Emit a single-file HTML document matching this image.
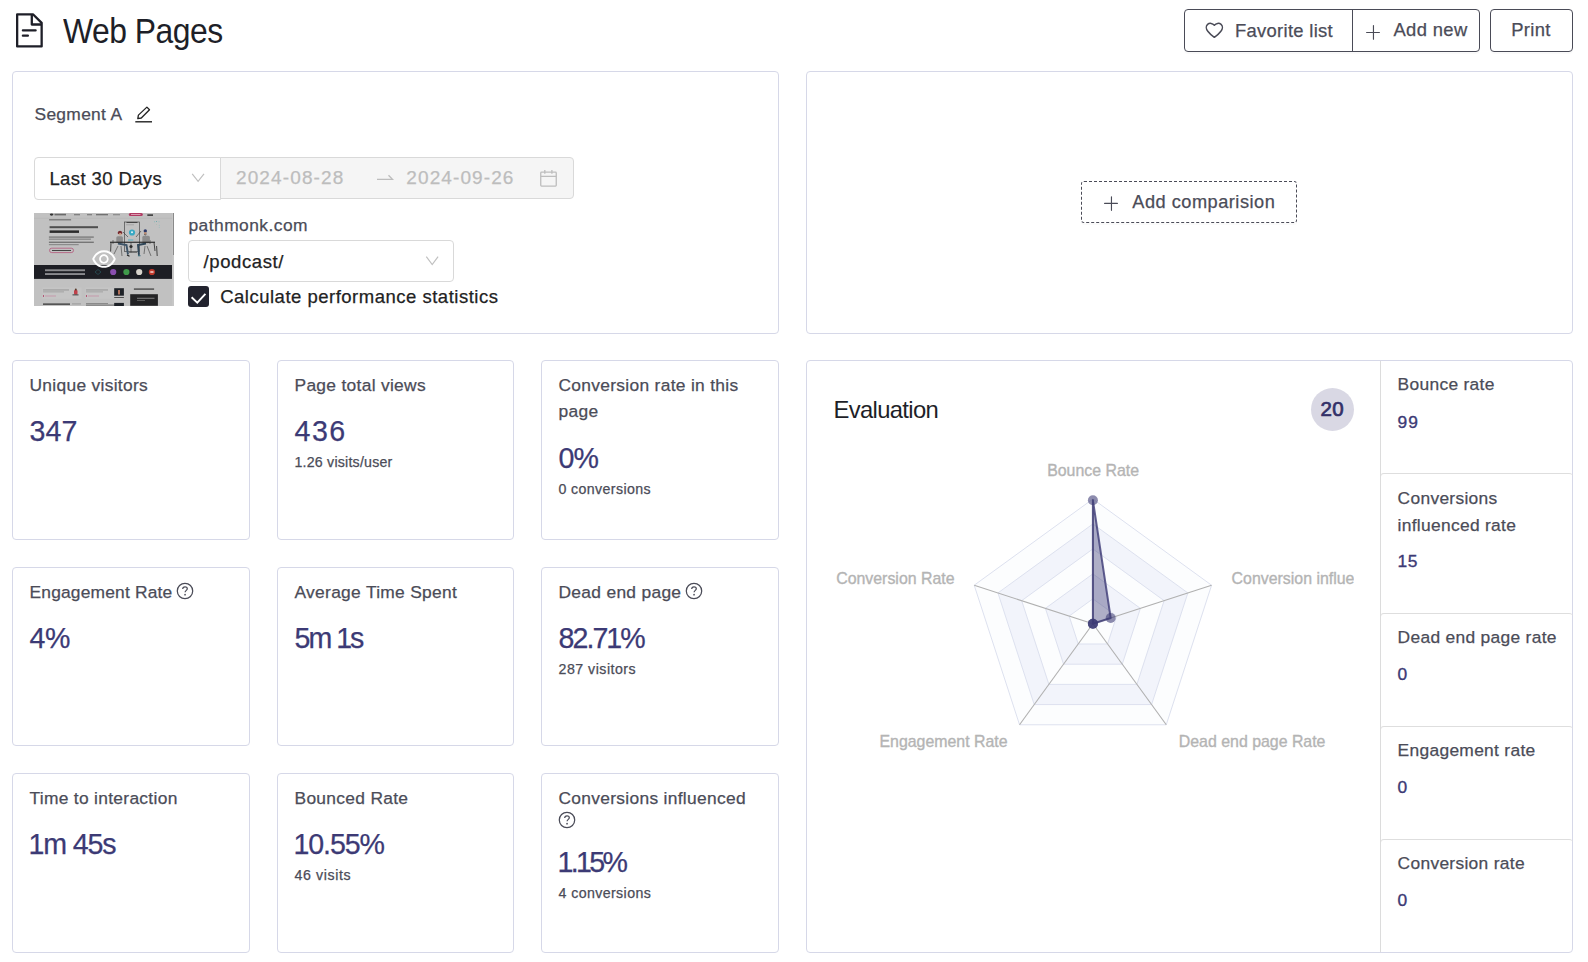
<!DOCTYPE html>
<html><head><meta charset="utf-8"><title>Web Pages</title>
<style>
html,body{margin:0;padding:0;background:#fff;}
body{width:1588px;height:962px;position:relative;overflow:hidden;font-family:"Liberation Sans", Arial, Helvetica, sans-serif;}
.t{position:absolute;white-space:nowrap;line-height:1;}
</style></head><body>
<svg style="position:absolute;left:14px;top:11px" width="32" height="40" viewBox="0 0 32 40">
<path d="M3.15 3.45 H19.2 L27.65 11.9 V35.45 H3.15 Z" fill="none" stroke="#1e1f28" stroke-width="2.3" stroke-linejoin="round"/>
<path d="M17.8 3.6 V13.5 H27.5" fill="none" stroke="#1e1f28" stroke-width="2.3" stroke-linejoin="round"/>
<path d="M8.9 19.4 H21.6" stroke="#1e1f28" stroke-width="2.3" stroke-linecap="round"/>
<path d="M8.9 24.7 H13.9" stroke="#1e1f28" stroke-width="2.3" stroke-linecap="round"/>
</svg>
<div class="t" style="left:63.0px;top:14.03px;font-size:35.4px;color:#1e1f28;letter-spacing:-0.55px;font-weight:400;transform:scaleX(0.9);transform-origin:0 0">Web Pages</div>
<div style="position:absolute;left:1184px;top:9px;width:296px;height:43px;box-sizing:border-box;border:1.3px solid #4a4b57;border-radius:4px;box-shadow:0 2px 0 rgba(0,0,0,0.02)"></div>
<div style="position:absolute;left:1352px;top:9px;width:1.3px;height:43px;box-sizing:border-box;background:#4a4b57"></div>
<div style="position:absolute;left:1490px;top:9px;width:83px;height:43px;box-sizing:border-box;border:1.3px solid #4a4b57;border-radius:4px;box-shadow:0 2px 0 rgba(0,0,0,0.02)"></div>
<svg style="position:absolute;left:1204px;top:21px" width="20" height="18" viewBox="0 0 20 18">
<path d="M10.35 16.3 C8 14.6 5.5 12.5 3.8 10.2 C1.9 7.9 1.8 5 3.6 3.4 C5.6 1.7 8.6 2.2 10.35 4.3 C12.1 2.2 15.1 1.7 17.1 3.4 C18.9 5 18.8 7.9 16.9 10.2 C15.2 12.5 12.7 14.6 10.35 16.3 Z" fill="none" stroke="#4a4b57" stroke-width="1.5" stroke-linejoin="round"/>
</svg>
<div class="t" style="left:1235.0px;top:21.52px;font-size:18.4px;color:#4b4c58;letter-spacing:0.3px;font-weight:400;-webkit-text-stroke:0.25px #4b4c58;">Favorite list</div>
<svg style="position:absolute;left:1364px;top:24px" width="18" height="18" viewBox="0 0 18 18">
<path d="M9.46 1.6 V15.2 M2.6 8.45 H15.4" stroke="#4a4b57" stroke-width="1.15" stroke-linecap="round"/></svg>
<div class="t" style="left:1393.5px;top:21.12px;font-size:18.4px;color:#4b4c58;letter-spacing:0.35px;font-weight:400;-webkit-text-stroke:0.25px #4b4c58;">Add new</div>
<div class="t" style="left:1511.3px;top:21.12px;font-size:18.4px;color:#4b4c58;letter-spacing:0.3px;font-weight:400;-webkit-text-stroke:0.25px #4b4c58;">Print</div>
<div style="position:absolute;left:12px;top:71px;width:767px;height:263px;box-sizing:border-box;border:1.3px solid #d6d8e8;border-radius:4px"></div>
<div style="position:absolute;left:806px;top:71px;width:767px;height:263px;box-sizing:border-box;border:1.3px solid #d6d8e8;border-radius:4px"></div>
<div class="t" style="left:34.5px;top:105.87px;font-size:17.4px;color:#4b4c58;letter-spacing:0.3px;font-weight:400;-webkit-text-stroke:0.25px #4b4c58;">Segment A</div>
<svg style="position:absolute;left:133px;top:104px" width="22" height="20" viewBox="0 0 22 20">
<path d="M4.8 14.6 L5.4 11.1 L13.9 3.1 L16.5 5.7 L8.3 14.0 Z" fill="none" stroke="#222" stroke-width="1.3" stroke-linejoin="round"/>
<path d="M2.3 17.8 H19" stroke="#222" stroke-width="1.4"/></svg>
<div style="position:absolute;left:34px;top:157px;width:187px;height:43px;box-sizing:border-box;border:1px solid #d9d9d9;border-radius:4px 0 0 4px;background:#fff"></div>
<div class="t" style="left:49.4px;top:170.24px;font-size:18.5px;color:#222;letter-spacing:0.4px;font-weight:400;-webkit-text-stroke:0.25px #222;">Last 30 Days</div>
<svg style="position:absolute;left:190px;top:171px" width="16" height="12" viewBox="0 0 16 12">
<path d="M2.2 2.8 L8.1 10.3 L14 2.8" fill="none" stroke="#c0c0c0" stroke-width="1.2"/></svg>
<div style="position:absolute;left:220px;top:157px;width:354px;height:42px;box-sizing:border-box;border:1px solid #d9d9d9;border-radius:0 4px 4px 0;background:#f5f5f5"></div>
<div class="t" style="left:236.0px;top:168.02px;font-size:19px;color:#bdbdbd;letter-spacing:1.12px;font-weight:400;-webkit-text-stroke:0.25px #bdbdbd;">2024-08-28</div>
<svg style="position:absolute;left:375px;top:170px" width="20" height="14" viewBox="0 0 20 14">
<path d="M2 9.4 H17.5 L13.5 5.2" fill="none" stroke="#bdbdbd" stroke-width="1.3"/></svg>
<div class="t" style="left:406.3px;top:168.02px;font-size:19px;color:#bdbdbd;letter-spacing:1.1px;font-weight:400;-webkit-text-stroke:0.25px #bdbdbd;">2024-09-26</div>
<svg style="position:absolute;left:538px;top:168px" width="20" height="20" viewBox="0 0 20 20">
<rect x="2.75" y="4.15" width="15.5" height="14" rx="0.8" fill="none" stroke="#bdbdbd" stroke-width="1.3"/>
<path d="M2.8 8.4 H18.2 M6.8 2 V5.8 M13.9 2 V5.8" stroke="#bdbdbd" stroke-width="1.3"/></svg>
<svg style="position:absolute;left:34px;top:213px" width="140" height="93" viewBox="0 0 140 93">
<rect width="140" height="93" fill="#c1c1c1"/>
<line x1="0" y1="5.3" x2="139" y2="5.3" stroke="#b5b5b5" stroke-width="0.6"/>
<!-- nav -->
<ellipse cx="17.6" cy="1.6" rx="1.8" ry="1.1" fill="#333"/>
<rect x="20.5" y="0.8" width="11.5" height="1.6" fill="#6a6a6a"/>
<rect x="40" y="1.1" width="6" height="1.2" fill="#7a7a7a"/>
<rect x="53" y="1.1" width="5" height="1.2" fill="#7a7a7a"/>
<rect x="62" y="1.1" width="12" height="1.2" fill="#6a6a6a"/>
<rect x="79" y="1.1" width="7" height="1.2" fill="#8a8a8a"/>
<rect x="94.8" y="0" width="14" height="3" rx="1.5" fill="#b03a62"/>
<rect x="97" y="1" width="9.5" height="1" fill="#d99ab0"/>
<rect x="113.3" y="1.4" width="5.7" height="1.4" fill="#2a2a2a"/>
<!-- hero text -->
<rect x="15.1" y="6.2" width="22" height="1.2" fill="#6f6f6f"/>
<rect x="15.6" y="13.2" width="48.4" height="2" fill="#4e4e4e"/>
<rect x="15.6" y="17.4" width="29.4" height="2.5" fill="#2b2b2b"/>
<rect x="14.9" y="23.4" width="44.9" height="1.4" fill="#7d7d7d"/>
<rect x="14.9" y="25.6" width="42" height="1.1" fill="#7d7d7d"/>
<rect x="14.9" y="28.6" width="44.9" height="1.4" fill="#767676"/>
<rect x="14.9" y="31.1" width="29.8" height="1.1" fill="#868686"/>
<rect x="15.5" y="35.2" width="24" height="4.4" rx="2.2" fill="none" stroke="#b4567a" stroke-width="0.8"/>
<rect x="18" y="37" width="19" height="1" fill="#444"/>
<!-- illustration -->
<rect x="90.4" y="9" width="15.2" height="29.4" fill="none" stroke="#4a4a4a" stroke-width="0.7"/>
<rect x="92.5" y="9" width="11" height="1" fill="#444"/>
<rect x="92" y="11.5" width="8" height="0.7" fill="#999"/>
<circle cx="98" cy="19.5" r="3.1" fill="#38a9c4"/>
<circle cx="98" cy="19.2" r="1" fill="#e8f4f8"/>
<path d="M89 19 L94 24 M107 18 L102 24" stroke="#333" stroke-width="0.6"/>
<path d="M94 27 H100" stroke="#38a9c4" stroke-width="0.8"/>
<rect x="99.3" y="25.5" width="5.2" height="3.6" fill="#bcbcbc"/>
<!-- chairs -->
<path d="M79 27 V31 M84 33 L80 41 M87 33 L88 43 M113 33 L117 43 M116 27 V31 M111 33 L110 41" stroke="#3a3a3a" stroke-width="0.6"/>
<!-- left person -->
<circle cx="86" cy="19.6" r="1.9" fill="#6b2a2a"/>
<path d="M83.6 19.5 Q86 17 88.4 19.5 L88 21 L84 21 Z" fill="#7a2a30"/>
<circle cx="86.2" cy="21.2" r="1.3" fill="#c9a28a"/>
<rect x="82.3" y="23.2" width="6.6" height="7" rx="1.6" fill="#8c8c8c"/>
<path d="M84 30.5 L92.5 32 L94 41.5" fill="none" stroke="#3e5468" stroke-width="1.9"/>
<path d="M93 42 L95.5 43.3" stroke="#222" stroke-width="1.1"/>
<!-- right person -->
<circle cx="111.3" cy="18" r="1.7" fill="#2d3a6a"/>
<circle cx="111.3" cy="20.4" r="1.3" fill="#b98a70"/>
<path d="M110.2 21.4 Q111.3 22.7 112.4 21.4" stroke="#333" stroke-width="0.7" fill="none"/>
<rect x="108.3" y="22.8" width="7.6" height="7.4" rx="1.6" fill="#8c8c8c"/>
<path d="M112 30.5 L104 32 L105 41.8" fill="none" stroke="#2f4658" stroke-width="1.9"/>
<path d="M104 42.6 L106.5 42.8" stroke="#3b6b7a" stroke-width="1.1"/>
<!-- table -->
<rect x="76" y="28.7" width="45" height="1.1" fill="#222"/>
<path d="M77 29.5 L76.6 38.5 M120 29.5 L121 38 M122.6 33 L123.2 43" stroke="#222" stroke-width="0.8"/>
<circle cx="97" cy="33.5" r="1.6" fill="#2a2a2a"/>
<rect x="96.7" y="29.5" width="0.6" height="10" fill="#333"/>
<rect x="95" y="39" width="8" height="0.6" fill="#444"/>
<!-- teal dots -->
<circle cx="120.5" cy="8.7" r="0.5" fill="#7fb9b9"/><circle cx="122.5" cy="8.5" r="0.5" fill="#5aa0a5"/><circle cx="125" cy="8.7" r="0.5" fill="#7fb9b9"/>
<circle cx="122.5" cy="11.5" r="0.4" fill="#9bc0a0"/><circle cx="125.2" cy="12.2" r="0.45" fill="#7fb9b9"/><circle cx="125.2" cy="14.2" r="0.45" fill="#7fb9b9"/>
<!-- dark band -->
<rect x="0" y="52" width="138.1" height="13.9" fill="#1d1e24"/>
<rect x="11" y="56.3" width="40" height="1.9" fill="#8a8a8e"/>
<rect x="11" y="60.1" width="40" height="1.9" fill="#8a8a8e"/>
<path d="M61 59 L64 56.5 L67 59 L64 61.5 Z" fill="none" stroke="#2f6d73" stroke-width="0.5"/>
<circle cx="79.2" cy="59" r="3.1" fill="#8a4fb0"/>
<circle cx="92.4" cy="59" r="3.1" fill="#3f9a4a"/>
<circle cx="105.2" cy="59" r="3.1" fill="#d8d4cc"/>
<circle cx="117.9" cy="59" r="3.1" fill="#c0392b"/>
<rect x="116.3" y="58" width="3.2" height="2" fill="#e6b0aa"/>
<rect x="138.1" y="0" width="1.9" height="93" fill="#c7c7c7"/>
<rect x="139" y="0" width="1" height="42" fill="#8a8a8a"/>
<!-- bottom cards -->
<rect x="8.5" y="74.4" width="39" height="11.5" fill="#c5c5c5"/>
<rect x="9" y="76.4" width="26" height="1.1" fill="#9a9a9a"/>
<rect x="9" y="78.3" width="21" height="1.1" fill="#a5a5a5"/>
<rect x="9" y="82" width="0.8" height="2" fill="#b03a62"/>
<rect x="11" y="82.5" width="11" height="1" fill="#c69aab"/>
<rect x="40" y="77" width="3.5" height="4.5" rx="1" fill="#c0404a"/>
<circle cx="41.8" cy="76.6" r="1" fill="#5a3a2a"/>
<rect x="38.5" y="81.5" width="6" height="0.8" fill="#222"/>
<rect x="51.4" y="74.4" width="38" height="11.5" fill="#c5c5c5"/>
<rect x="52" y="76.4" width="22" height="1.1" fill="#9a9a9a"/>
<rect x="52" y="78.3" width="17" height="1.1" fill="#a5a5a5"/>
<rect x="52" y="82" width="0.8" height="2" fill="#b03a62"/>
<rect x="54" y="82.5" width="11" height="1" fill="#c69aab"/>
<rect x="80.2" y="75.2" width="9.7" height="7.5" fill="#1e2228"/>
<rect x="84" y="77" width="2" height="4.5" fill="#b0705a"/>
<rect x="80.2" y="84" width="9.7" height="0.8" fill="#333"/>
<rect x="99.9" y="75.3" width="20.2" height="1.6" fill="#5a5a5a"/>
<rect x="96.2" y="81.2" width="27.7" height="11.6" fill="#232325"/>
<rect x="103" y="84.8" width="17.5" height="0.9" fill="#8a8a8a"/>
<rect x="103" y="87.2" width="8" height="0.8" fill="#6a6a6a"/>
<rect x="9" y="90.4" width="27" height="1.5" fill="#4a4a4a"/>
<rect x="38" y="90.4" width="9" height="1" fill="#9a9a9a"/>
<rect x="52" y="90" width="22" height="1" fill="#8a8a8a"/>
<rect x="52" y="91.6" width="30" height="1" fill="#6a6a6a"/>
<rect x="80.2" y="89.9" width="9.7" height="3.1" fill="#1e2228"/>
<svg x="58" y="34" width="24" height="24" viewBox="64 64 896 896"><path fill="#fff" d="M942.2 486.2C847.4 286.5 704.1 186 512 186c-192.2 0-335.4 100.5-430.2 300.3a60.3 60.3 0 000 51.5C176.6 737.5 319.9 838 512 838c192.2 0 335.4-100.5 430.2-300.3 7.7-16.2 7.7-35 0-51.5zM512 766c-161.3 0-279.4-81.8-362.7-254C232.6 339.8 350.7 258 512 258c161.3 0 279.4 81.8 362.7 254C791.5 684.2 673.4 766 512 766zm-4-430c-97.2 0-176 78.8-176 176s78.8 176 176 176 176-78.8 176-176-78.8-176-176-176zm0 288c-61.9 0-112-50.1-112-112s50.1-112 112-112 112 50.1 112 112-50.1 112-112 112z"/></svg>
</svg>
<div class="t" style="left:188.5px;top:216.87px;font-size:17.4px;color:#4b4c58;letter-spacing:0.45px;font-weight:400;-webkit-text-stroke:0.25px #4b4c58;">pathmonk.com</div>
<div style="position:absolute;left:188px;top:240px;width:266px;height:42px;box-sizing:border-box;border:1px solid #d9d9d9;border-radius:4px;background:#fff"></div>
<div class="t" style="left:203.5px;top:252.74px;font-size:18.5px;color:#222;letter-spacing:0.6px;font-weight:400;-webkit-text-stroke:0.25px #222;">/podcast/</div>
<svg style="position:absolute;left:424px;top:254px" width="16" height="12" viewBox="0 0 16 12">
<path d="M2.3 2.6 L8.2 10.6 L14.1 2.6" fill="none" stroke="#c0c0c0" stroke-width="1.2"/></svg>
<div style="position:absolute;left:188px;top:286px;width:21px;height:21px;box-sizing:border-box;background:#22232e;border-radius:3px"></div>
<svg style="position:absolute;left:188px;top:286px" width="21" height="21" viewBox="0 0 21 21">
<path d="M3.6 11.3 L9.3 16.6 L17.4 7.8" fill="none" stroke="#fff" stroke-width="1.9"/></svg>
<div class="t" style="left:220.2px;top:288.34px;font-size:18.5px;color:#222;letter-spacing:0.5px;font-weight:400;-webkit-text-stroke:0.25px #222;">Calculate performance statistics</div>
<div style="position:absolute;left:1081px;top:181px;width:216px;height:42px;box-sizing:border-box;border:1.2px dashed #4a4b57;border-radius:3px;box-shadow:0 2px 0 rgba(0,0,0,0.02)"></div>
<svg style="position:absolute;left:1102px;top:195px" width="18" height="18" viewBox="0 0 18 18">
<path d="M9.46 1.7 V15.3 M2.6 8.43 H15.4" stroke="#4a4b57" stroke-width="1.15" stroke-linecap="round"/></svg>
<div class="t" style="left:1132.3px;top:192.99px;font-size:18.2px;color:#4b4c58;letter-spacing:0.5px;font-weight:400;-webkit-text-stroke:0.25px #4b4c58;">Add comparision</div>
<div style="position:absolute;left:12px;top:360px;width:238px;height:180px;box-sizing:border-box;border:1.3px solid #d6d8e8;border-radius:4px"></div>
<div class="t" style="left:29.5px;top:376.57px;font-size:17.4px;color:#4b4c58;letter-spacing:0.3px;font-weight:400;-webkit-text-stroke:0.25px #4b4c58;white-space:nowrap">Unique visitors</div>
<div class="t" style="left:29.5px;top:417.09px;font-size:28.6px;color:#3c3a75;letter-spacing:0.1px;font-weight:400;-webkit-text-stroke:0.25px #3c3a75;">347</div>
<div style="position:absolute;left:277px;top:360px;width:237px;height:180px;box-sizing:border-box;border:1.3px solid #d6d8e8;border-radius:4px"></div>
<div class="t" style="left:294.5px;top:376.57px;font-size:17.4px;color:#4b4c58;letter-spacing:0.3px;font-weight:400;-webkit-text-stroke:0.25px #4b4c58;white-space:nowrap">Page total views</div>
<div class="t" style="left:294.5px;top:417.09px;font-size:28.6px;color:#3c3a75;letter-spacing:1.5px;font-weight:400;-webkit-text-stroke:0.25px #3c3a75;">436</div>
<div class="t" style="left:294.5px;top:455.08px;font-size:14.2px;color:#4b4c58;letter-spacing:0.21px;font-weight:400;-webkit-text-stroke:0.25px #4b4c58;">1.26 visits/user</div>
<div style="position:absolute;left:541px;top:360px;width:238px;height:180px;box-sizing:border-box;border:1.3px solid #d6d8e8;border-radius:4px"></div>
<div class="t" style="left:558.5px;top:376.57px;font-size:17.4px;color:#4b4c58;letter-spacing:0.3px;font-weight:400;-webkit-text-stroke:0.25px #4b4c58;white-space:nowrap">Conversion rate in this</div>
<div class="t" style="left:558.5px;top:403.37px;font-size:17.4px;color:#4b4c58;letter-spacing:0.3px;font-weight:400;-webkit-text-stroke:0.25px #4b4c58;white-space:nowrap">page</div>
<div class="t" style="left:558.5px;top:443.89px;font-size:28.6px;color:#3c3a75;letter-spacing:-0.8px;font-weight:400;-webkit-text-stroke:0.25px #3c3a75;">0%</div>
<div class="t" style="left:558.5px;top:481.88px;font-size:14.2px;color:#4b4c58;letter-spacing:0.38px;font-weight:400;-webkit-text-stroke:0.25px #4b4c58;">0 conversions</div>
<div style="position:absolute;left:12px;top:567px;width:238px;height:179px;box-sizing:border-box;border:1.3px solid #d6d8e8;border-radius:4px"></div>
<div class="t" style="left:29.5px;top:583.57px;font-size:17.4px;color:#4b4c58;letter-spacing:0.18px;font-weight:400;-webkit-text-stroke:0.25px #4b4c58;white-space:nowrap">Engagement Rate</div>
<div class="t" style="left:29.5px;top:624.09px;font-size:28.6px;color:#3c3a75;letter-spacing:-0.5px;font-weight:400;-webkit-text-stroke:0.25px #3c3a75;">4%</div>
<div style="position:absolute;left:277px;top:567px;width:237px;height:179px;box-sizing:border-box;border:1.3px solid #d6d8e8;border-radius:4px"></div>
<div class="t" style="left:294.5px;top:583.57px;font-size:17.4px;color:#4b4c58;letter-spacing:0.3px;font-weight:400;-webkit-text-stroke:0.25px #4b4c58;white-space:nowrap">Average Time Spent</div>
<div class="t" style="left:294.5px;top:624.09px;font-size:28.6px;color:#3c3a75;letter-spacing:-2.0px;font-weight:400;-webkit-text-stroke:0.25px #3c3a75;">5m 1s</div>
<div style="position:absolute;left:541px;top:567px;width:238px;height:179px;box-sizing:border-box;border:1.3px solid #d6d8e8;border-radius:4px"></div>
<div class="t" style="left:558.5px;top:583.57px;font-size:17.4px;color:#4b4c58;letter-spacing:0.3px;font-weight:400;-webkit-text-stroke:0.25px #4b4c58;white-space:nowrap">Dead end page</div>
<div class="t" style="left:558.5px;top:624.09px;font-size:28.6px;color:#3c3a75;letter-spacing:-1.95px;font-weight:400;-webkit-text-stroke:0.25px #3c3a75;">82.71%</div>
<div class="t" style="left:558.5px;top:662.08px;font-size:14.2px;color:#4b4c58;letter-spacing:0.49px;font-weight:400;-webkit-text-stroke:0.25px #4b4c58;">287 visitors</div>
<div style="position:absolute;left:12px;top:773px;width:238px;height:180px;box-sizing:border-box;border:1.3px solid #d6d8e8;border-radius:4px"></div>
<div class="t" style="left:29.5px;top:789.57px;font-size:17.4px;color:#4b4c58;letter-spacing:0.3px;font-weight:400;-webkit-text-stroke:0.25px #4b4c58;white-space:nowrap">Time to interaction</div>
<div class="t" style="left:28.5px;top:830.09px;font-size:28.6px;color:#3c3a75;letter-spacing:-1.15px;font-weight:400;-webkit-text-stroke:0.25px #3c3a75;">1m 45s</div>
<div style="position:absolute;left:277px;top:773px;width:237px;height:180px;box-sizing:border-box;border:1.3px solid #d6d8e8;border-radius:4px"></div>
<div class="t" style="left:294.5px;top:789.57px;font-size:17.4px;color:#4b4c58;letter-spacing:0.3px;font-weight:400;-webkit-text-stroke:0.25px #4b4c58;white-space:nowrap">Bounced Rate</div>
<div class="t" style="left:293.5px;top:830.09px;font-size:28.6px;color:#3c3a75;letter-spacing:-1.12px;font-weight:400;-webkit-text-stroke:0.25px #3c3a75;">10.55%</div>
<div class="t" style="left:294.5px;top:868.08px;font-size:14.2px;color:#4b4c58;letter-spacing:0.61px;font-weight:400;-webkit-text-stroke:0.25px #4b4c58;">46 visits</div>
<div style="position:absolute;left:541px;top:773px;width:238px;height:180px;box-sizing:border-box;border:1.3px solid #d6d8e8;border-radius:4px"></div>
<div class="t" style="left:558.5px;top:789.57px;font-size:17.4px;color:#4b4c58;letter-spacing:0.3px;font-weight:400;-webkit-text-stroke:0.25px #4b4c58;white-space:nowrap">Conversions influenced</div>
<svg style="position:absolute;left:558px;top:811px" width="18" height="18" viewBox="0 0 18 18">
<circle cx="9" cy="9" r="7.7" fill="none" stroke="#4b4c58" stroke-width="1.25"/>
<path d="M6.7 7.1 C6.7 5.6 7.8 4.8 9 4.8 C10.3 4.8 11.3 5.7 11.3 6.8 C11.3 8.3 9.1 8.5 9.1 10.3" fill="none" stroke="#4b4c58" stroke-width="1.25"/>
<circle cx="9.05" cy="12.7" r="0.85" fill="#4b4c58"/></svg>
<div class="t" style="left:557.5px;top:847.51px;font-size:28.6px;color:#3c3a75;letter-spacing:-2.65px;font-weight:400;-webkit-text-stroke:0.25px #3c3a75;">1.15%</div>
<div class="t" style="left:558.5px;top:885.50px;font-size:14.2px;color:#4b4c58;letter-spacing:0.4px;font-weight:400;-webkit-text-stroke:0.25px #4b4c58;">4 conversions</div>
<svg style="position:absolute;left:175.5px;top:581.5px" width="18" height="18" viewBox="0 0 18 18">
<circle cx="9" cy="9" r="7.7" fill="none" stroke="#4b4c58" stroke-width="1.25"/>
<path d="M6.7 7.1 C6.7 5.6 7.8 4.8 9 4.8 C10.3 4.8 11.3 5.7 11.3 6.8 C11.3 8.3 9.1 8.5 9.1 10.3" fill="none" stroke="#4b4c58" stroke-width="1.25"/>
<circle cx="9.05" cy="12.7" r="0.85" fill="#4b4c58"/></svg>
<svg style="position:absolute;left:684.5px;top:581.5px" width="18" height="18" viewBox="0 0 18 18">
<circle cx="9" cy="9" r="7.7" fill="none" stroke="#4b4c58" stroke-width="1.25"/>
<path d="M6.7 7.1 C6.7 5.6 7.8 4.8 9 4.8 C10.3 4.8 11.3 5.7 11.3 6.8 C11.3 8.3 9.1 8.5 9.1 10.3" fill="none" stroke="#4b4c58" stroke-width="1.25"/>
<circle cx="9.05" cy="12.7" r="0.85" fill="#4b4c58"/></svg>
<div style="position:absolute;left:806px;top:360px;width:767px;height:593px;box-sizing:border-box;border:1.3px solid #d6d8e8;border-radius:4px"></div>
<div style="position:absolute;left:1380px;top:361px;width:1px;height:591px;box-sizing:border-box;background:#dcdcdc"></div>
<div class="t" style="left:833.5px;top:397.75px;font-size:23.8px;color:#1e1f28;letter-spacing:-0.66px;font-weight:400;">Evaluation</div>
<div style="position:absolute;left:1311px;top:388px;width:43px;height:43px;border-radius:50%;background:#d9d8e4"></div>
<div class="t" style="left:1320.5px;top:399.15px;font-size:20.5px;color:#333068;letter-spacing:0.4px;font-weight:400;-webkit-text-stroke:0.25px #333068;-webkit-text-stroke:0.7px #333068">20</div>
<div style="position:absolute;left:0;top:0;width:1588px;height:952px;overflow:hidden">
<div class="t" style="left:1397.6px;top:375.97px;font-size:17.4px;color:#4b4c58;letter-spacing:0.3px;font-weight:400;-webkit-text-stroke:0.25px #4b4c58;white-space:nowrap">Bounce rate</div>
<div class="t" style="left:1397.6px;top:413.57px;font-size:17.4px;color:#3c3a75;letter-spacing:0.9px;font-weight:400;-webkit-text-stroke:0.25px #3c3a75;-webkit-text-stroke:0.35px #3c3a75">99</div>
<div style="position:absolute;left:1380px;top:473px;width:193px;height:144px;box-sizing:border-box;border-top:1px solid #dedede;border-left:1px solid #dcdcdc;border-radius:4px 4px 0 0"></div>
<div class="t" style="left:1397.6px;top:489.77px;font-size:17.4px;color:#4b4c58;letter-spacing:0.3px;font-weight:400;-webkit-text-stroke:0.25px #4b4c58;white-space:nowrap">Conversions</div>
<div class="t" style="left:1397.6px;top:516.57px;font-size:17.4px;color:#4b4c58;letter-spacing:0.3px;font-weight:400;-webkit-text-stroke:0.25px #4b4c58;white-space:nowrap">influenced rate</div>
<div class="t" style="left:1397.6px;top:553.17px;font-size:17.4px;color:#3c3a75;letter-spacing:0.4px;font-weight:400;-webkit-text-stroke:0.25px #3c3a75;-webkit-text-stroke:0.35px #3c3a75">15</div>
<div style="position:absolute;left:1380px;top:613px;width:193px;height:117px;box-sizing:border-box;border-top:1px solid #dedede;border-left:1px solid #dcdcdc;border-radius:4px 4px 0 0"></div>
<div class="t" style="left:1397.6px;top:628.77px;font-size:17.4px;color:#4b4c58;letter-spacing:0.3px;font-weight:400;-webkit-text-stroke:0.25px #4b4c58;white-space:nowrap">Dead end page rate</div>
<div class="t" style="left:1397.6px;top:666.37px;font-size:17.4px;color:#3c3a75;letter-spacing:0.4px;font-weight:400;-webkit-text-stroke:0.25px #3c3a75;-webkit-text-stroke:0.35px #3c3a75">0</div>
<div style="position:absolute;left:1380px;top:726px;width:193px;height:117px;box-sizing:border-box;border-top:1px solid #dedede;border-left:1px solid #dcdcdc;border-radius:4px 4px 0 0"></div>
<div class="t" style="left:1397.6px;top:741.77px;font-size:17.4px;color:#4b4c58;letter-spacing:0.3px;font-weight:400;-webkit-text-stroke:0.25px #4b4c58;white-space:nowrap">Engagement rate</div>
<div class="t" style="left:1397.6px;top:779.37px;font-size:17.4px;color:#3c3a75;letter-spacing:0.4px;font-weight:400;-webkit-text-stroke:0.25px #3c3a75;-webkit-text-stroke:0.35px #3c3a75">0</div>
<div style="position:absolute;left:1380px;top:839px;width:193px;height:117px;box-sizing:border-box;border-top:1px solid #dedede;border-left:1px solid #dcdcdc;border-radius:4px 4px 0 0"></div>
<div class="t" style="left:1397.6px;top:854.77px;font-size:17.4px;color:#4b4c58;letter-spacing:0.3px;font-weight:400;-webkit-text-stroke:0.25px #4b4c58;white-space:nowrap">Conversion rate</div>
<div class="t" style="left:1397.6px;top:892.37px;font-size:17.4px;color:#3c3a75;letter-spacing:0.4px;font-weight:400;-webkit-text-stroke:0.25px #3c3a75;-webkit-text-stroke:0.35px #3c3a75">0</div>
</div>
<svg style="position:absolute;left:0;top:0" width="1588" height="962" viewBox="0 0 1588 962">
<polygon points="1092.90,499.00 974.21,585.23 1019.54,724.77 1166.26,724.77 1211.59,585.23" fill="#fcfdfe" stroke="none"/>
<polygon points="1092.90,523.96 997.95,592.95 1034.22,704.57 1151.58,704.57 1187.85,592.95" fill="#f2f4fb" stroke="none"/>
<polygon points="1092.90,548.92 1021.68,600.66 1048.89,684.38 1136.91,684.38 1164.12,600.66" fill="#fcfdfe" stroke="none"/>
<polygon points="1092.90,573.88 1045.42,608.37 1063.56,664.19 1122.24,664.19 1140.38,608.37" fill="#f2f4fb" stroke="none"/>
<polygon points="1092.90,598.84 1069.16,616.09 1078.23,643.99 1107.57,643.99 1116.64,616.09" fill="#fcfdfe" stroke="none"/>
<polygon points="1092.90,598.84 1069.16,616.09 1078.23,643.99 1107.57,643.99 1116.64,616.09" fill="none" stroke="#dde1ef" stroke-width="1"/>
<polygon points="1092.90,573.88 1045.42,608.37 1063.56,664.19 1122.24,664.19 1140.38,608.37" fill="none" stroke="#dde1ef" stroke-width="1"/>
<polygon points="1092.90,548.92 1021.68,600.66 1048.89,684.38 1136.91,684.38 1164.12,600.66" fill="none" stroke="#dde1ef" stroke-width="1"/>
<polygon points="1092.90,523.96 997.95,592.95 1034.22,704.57 1151.58,704.57 1187.85,592.95" fill="none" stroke="#dde1ef" stroke-width="1"/>
<polygon points="1092.90,499.00 974.21,585.23 1019.54,724.77 1166.26,724.77 1211.59,585.23" fill="none" stroke="#dde1ef" stroke-width="1"/>
<line x1="1092.9" y1="623.8" x2="1092.90" y2="499.00" stroke="#b0b0b0" stroke-width="1.1"/>
<line x1="1092.9" y1="623.8" x2="974.21" y2="585.23" stroke="#b0b0b0" stroke-width="1.1"/>
<line x1="1092.9" y1="623.8" x2="1019.54" y2="724.77" stroke="#b0b0b0" stroke-width="1.1"/>
<line x1="1092.9" y1="623.8" x2="1166.26" y2="724.77" stroke="#b0b0b0" stroke-width="1.1"/>
<line x1="1092.9" y1="623.8" x2="1211.59" y2="585.23" stroke="#b0b0b0" stroke-width="1.1"/>
<polygon points="1092.90,500.25 1092.90,623.80 1092.90,623.80 1092.90,623.80 1110.70,618.02" fill="rgba(60,58,117,0.4)" stroke="rgba(60,58,117,0.8)" stroke-width="2" stroke-linejoin="round"/>
<circle cx="1092.90" cy="500.25" r="5" fill="rgba(60,58,117,0.585)"/>
<circle cx="1092.90" cy="623.80" r="5" fill="rgba(60,58,117,0.585)"/>
<circle cx="1092.90" cy="623.80" r="5" fill="rgba(60,58,117,0.585)"/>
<circle cx="1092.90" cy="623.80" r="5" fill="rgba(60,58,117,0.585)"/>
<circle cx="1110.70" cy="618.02" r="5" fill="rgba(60,58,117,0.585)"/>
</svg>
<div class="t" style="left:1047.2px;top:462.64px;font-size:15.9px;color:#b4b4b4;letter-spacing:0px;font-weight:400;-webkit-text-stroke:0.35px #b4b4b4;">Bounce Rate</div>
<div class="t" style="left:836.2px;top:570.74px;font-size:15.9px;color:#b4b4b4;letter-spacing:0px;font-weight:400;-webkit-text-stroke:0.35px #b4b4b4;">Conversion Rate</div>
<div style="position:absolute;left:1231px;top:560px;width:123px;height:40px;overflow:hidden">
<div class="t" style="left:0.6px;top:10.74px;font-size:15.9px;color:#b4b4b4;letter-spacing:0px;font-weight:400;-webkit-text-stroke:0.35px #b4b4b4;white-space:nowrap">Conversion influenced rate</div>
</div>
<div class="t" style="left:879.5px;top:733.54px;font-size:15.9px;color:#b4b4b4;letter-spacing:0px;font-weight:400;-webkit-text-stroke:0.35px #b4b4b4;">Engagement Rate</div>
<div class="t" style="left:1178.8px;top:733.54px;font-size:15.9px;color:#b4b4b4;letter-spacing:0px;font-weight:400;-webkit-text-stroke:0.35px #b4b4b4;">Dead end page Rate</div>
</body></html>
